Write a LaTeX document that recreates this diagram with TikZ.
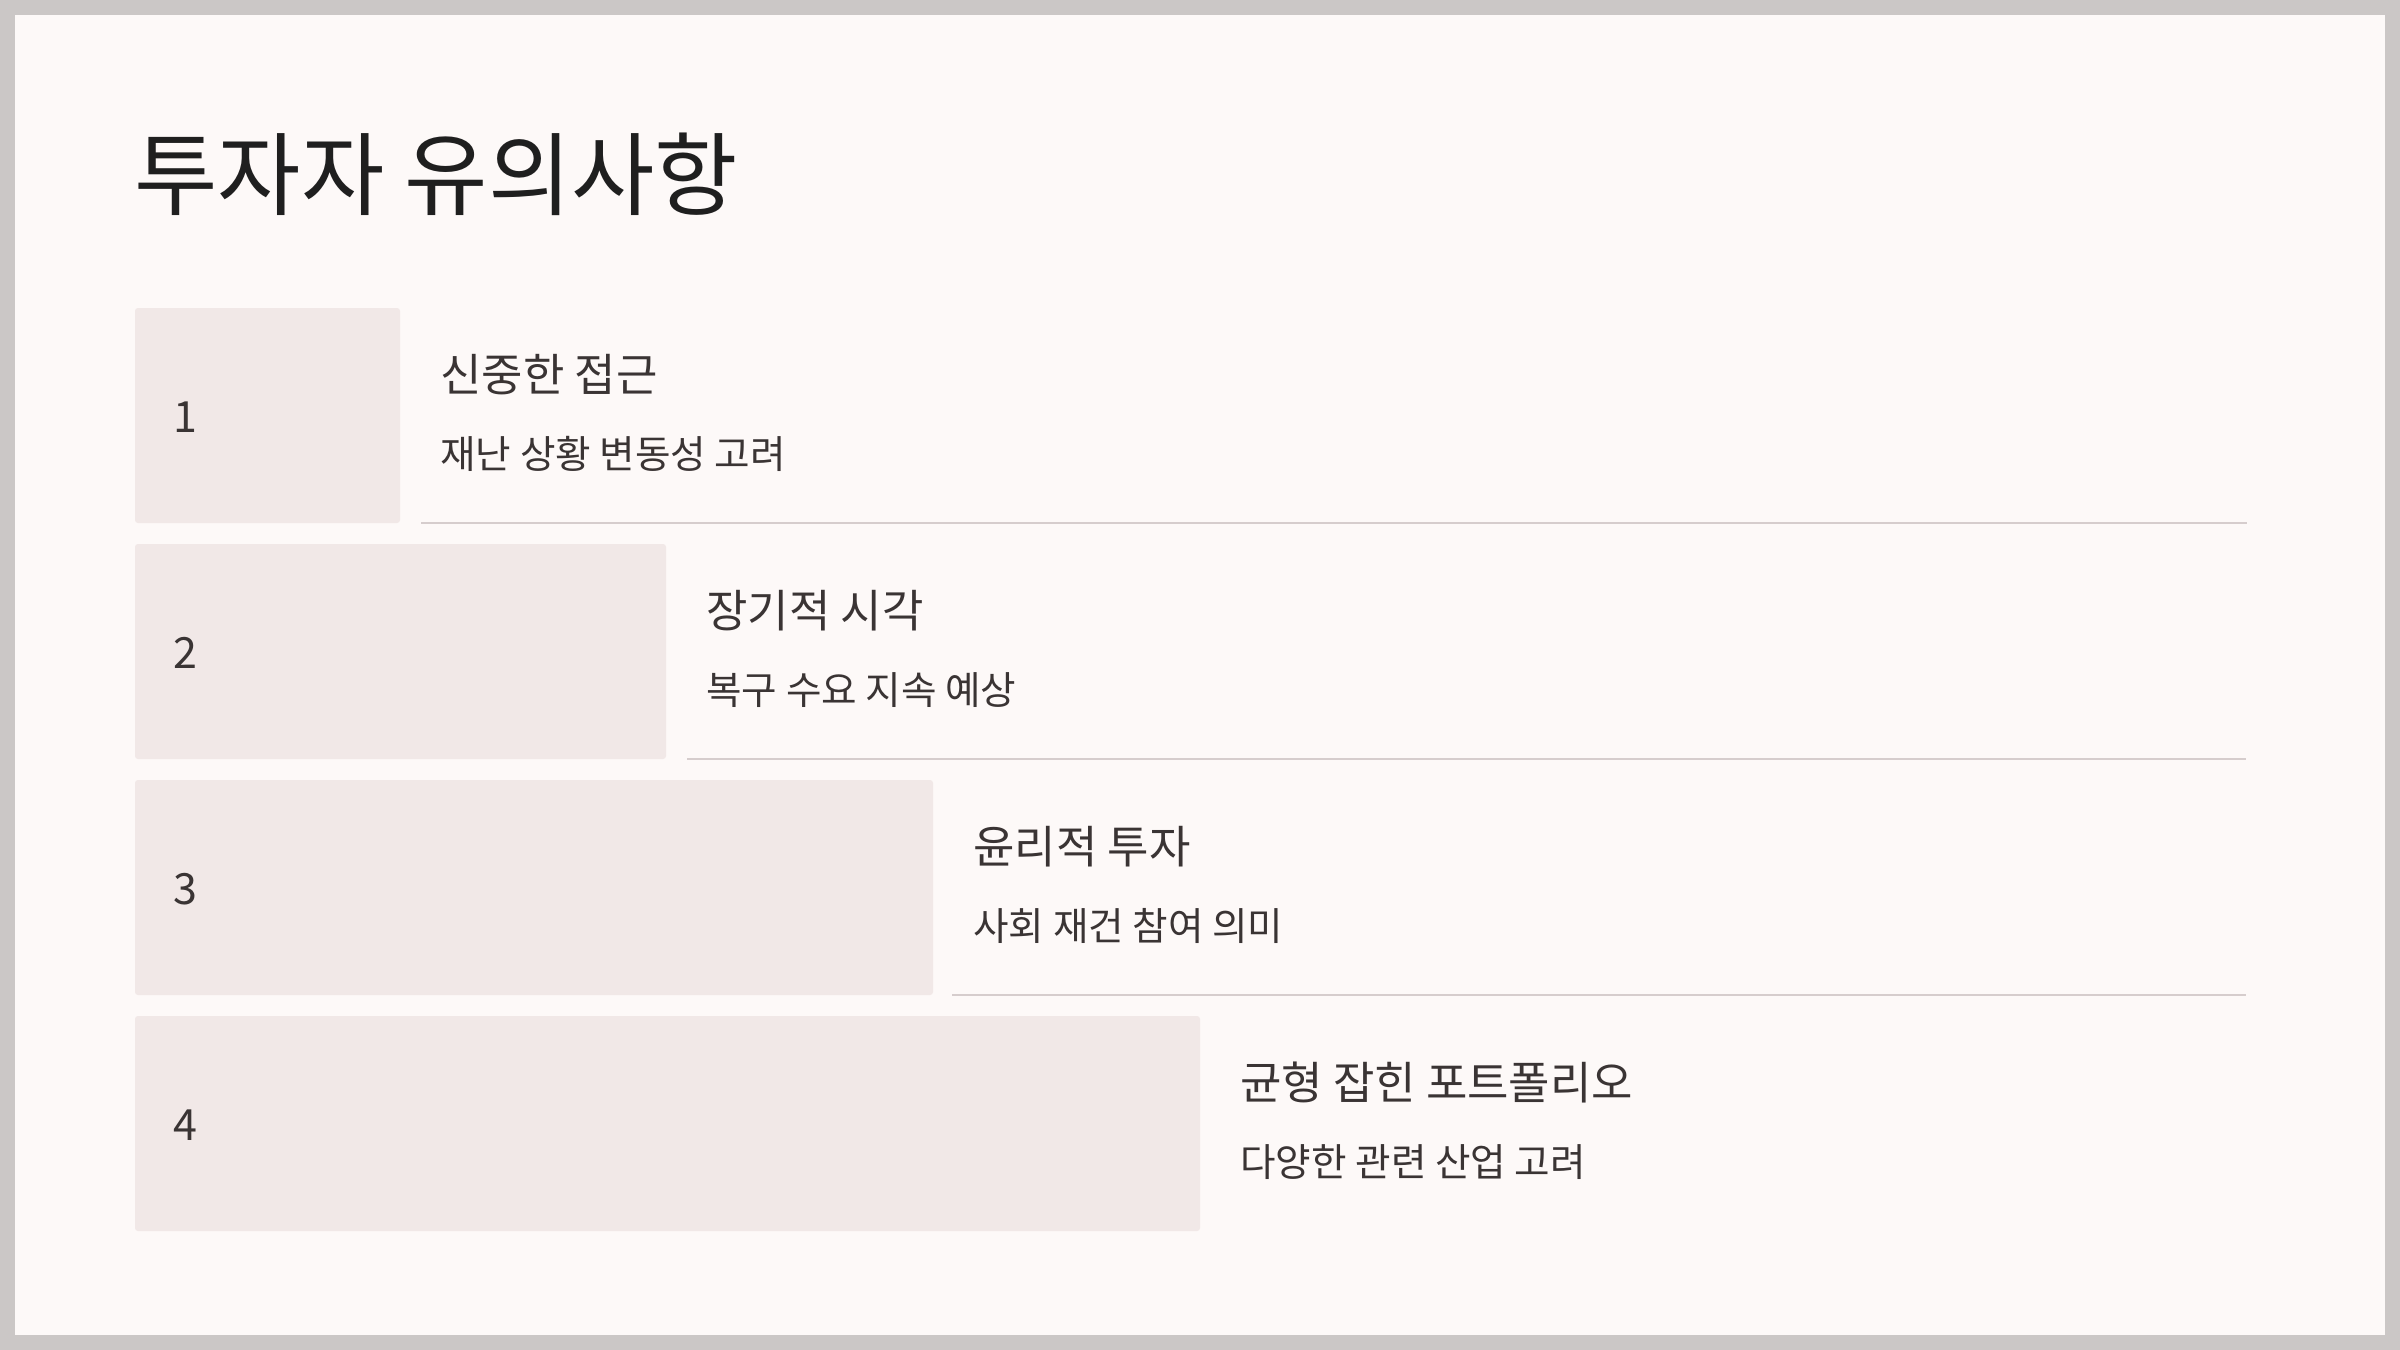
\documentclass[tikz,border=0pt]{standalone}
\usepackage{fontspec}
\setmainfont{Noto Sans CJK KR}
\definecolor{framegray}{HTML}{CBC7C6}
\definecolor{pagebg}{HTML}{FDF9F8}
\definecolor{boxfill}{HTML}{F1E8E7}
\definecolor{rulecol}{HTML}{D6CDCD}
\definecolor{txt}{HTML}{3A3434}
\definecolor{titlecol}{HTML}{1F1F1F}
\tikzset{
  stepbox/.style={fill=boxfill, draw=none, rounded corners=1.5pt},
  numtext/.style={anchor=base west, inner sep=0pt, text=txt, font=\fontsize{21.5}{26}\selectfont},
  headtext/.style={anchor=base west, inner sep=0pt, text=txt, font=\fontsize{22.5}{27}\selectfont},
  subtext/.style={anchor=base west, inner sep=0pt, text=txt, font=\fontsize{19.3}{23}\selectfont},
  rowrule/.style={draw=rulecol, line width=1pt},
}
\begin{document}
\begin{tikzpicture}[x=0.5pt, y=-0.5pt]
\useasboundingbox (0,0) rectangle (2400,1350);
\fill[framegray] (0,0) rectangle (2400,1350);
\fill[pagebg] (15,15) rectangle (2385,1335);
\node[anchor=base west, inner sep=0pt, text=titlecol, font=\fontsize{45.3}{54}\selectfont] (title) at (134,208) {투자자 유의사항};
\foreach \i/\w/\hd/\sb in {1/265/신중한 접근/재난 상황 변동성 고려, 2/531/장기적 시각/복구 수요 지속 예상, 3/798/윤리적 투자/사회 재건 참여 의미, 4/1065/균형 잡힌 포트폴리오/다양한 관련 산업 고려}{
  \pgfmathsetmacro{\top}{308+236*(\i-1)}
  \pgfmathsetmacro{\bot}{\top+215}
  \pgfmathsetmacro{\rt}{135+\w}
  \fill[stepbox] (135,\top) rectangle (\rt,\bot);
  \coordinate (box\i) at (\rt,\bot);
  \node[numtext] (num\i) at (173,\top+124) {\i};
  \node[headtext] (head\i) at (\rt+40,\top+83) {\hd};
  \node[subtext] (sub\i) at (\rt+40,\top+160) {\sb};
}
\coordinate (ra1) at (421,523); \coordinate (rb1) at (2247,523);
\coordinate (ra2) at (687,759); \coordinate (rb2) at (2246,759);
\coordinate (ra3) at (952,995); \coordinate (rb3) at (2246,995);
\draw[rowrule] (ra1) -- (rb1);
\draw[rowrule] (ra2) -- (rb2);
\draw[rowrule] (ra3) -- (rb3);
\end{tikzpicture}
\end{document}
